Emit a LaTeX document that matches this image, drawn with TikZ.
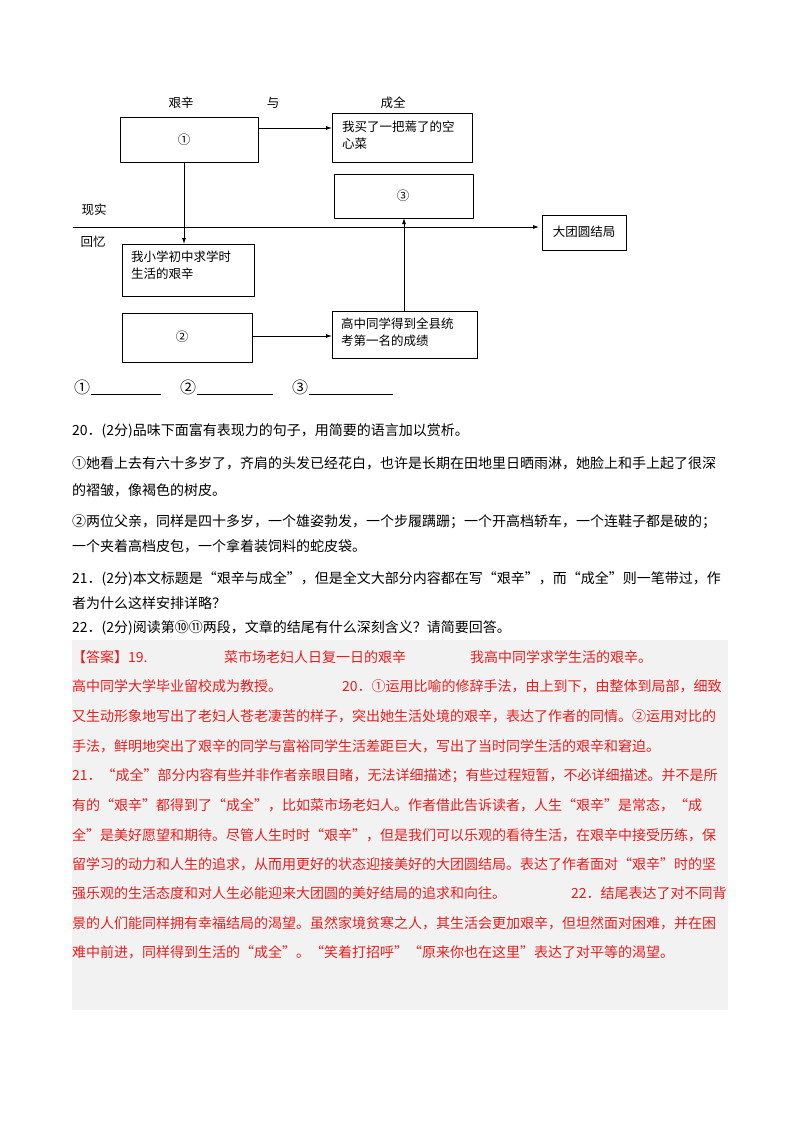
\documentclass[tikz,border=0pt]{standalone}
\usepackage{fontspec}
\setmainfont{Noto Sans CJK SC}
\usetikzlibrary{arrows.meta}
\definecolor{ansred}{RGB}{232,30,30}
\definecolor{ansbg}{RGB}{242,242,242}
\tikzset{
  box/.style={draw, line width=0.8pt, minimum width=0pt},
  lbl/.style={font=\fontsize{12.5}{17}\selectfont, inner sep=0pt},
  txt/.style={anchor=west, inner sep=0pt, font=\fontsize{14}{16}\selectfont},
  ans/.style={txt, text=ansred},
  arr/.style={-{Latex[length=6pt,width=4pt]}, line width=0.8pt}
}
\begin{document}
\begin{tikzpicture}[x=1pt, y=-1pt, line join=round]
\useasboundingbox (0,0) rectangle (800,1132);
\fill[white] (0,0) rectangle (800,1132);
% diagram
\node[lbl] (hard) at (181,103) {艰辛};
\node[lbl] (and) at (273,103) {与};
\node[lbl] (done) at (393,103) {成全};
\draw[box] (120,117) rectangle (258,162);
\node[lbl] (b1) at (184,140) {①};
\draw[box] (332,113) rectangle (472,162);
\node[lbl, align=left, anchor=north west] (cai) at (342,121) {我买了一把蔫了的空\\心菜};
\draw[box] (334,174) rectangle (473,218);
\node[lbl] (b3) at (403,196) {③};
\draw[box] (542,215) rectangle (626,250);
\node[lbl] (end) at (584,232) {大团圆结局};
\node[lbl] (now) at (94,210) {现实};
\node[lbl] (past) at (93,242) {回忆};
\draw[box] (122,244) rectangle (254,296);
\node[lbl, align=left, anchor=north west] (xiao) at (131,251) {我小学初中求学时\\生活的艰辛};
\draw[box] (122,313) rectangle (252,362);
\node[lbl] (b2) at (182,337) {②};
\draw[box] (332,311) rectangle (477,358);
\node[lbl, align=left, anchor=north west] (gao) at (341,318) {高中同学得到全县统\\考第一名的成绩};
\coordinate (lineL) at (73,227);
\coordinate (lineR) at (539,227);
\draw[arr] (lineL) -- (lineR);
\draw[arr] (258,128) -- (332,128);
\draw[arr] (184,162) -- (184,244);
\draw[arr] (252,336) -- (332,336);
\draw[arr] (404,311) -- (404,218);
% blanks
\node[lbl, font=\fontsize{16}{18}\selectfont] (q1) at (82,387) {①};
\draw (91,394) -- (161,394);
\node[lbl, font=\fontsize{16}{18}\selectfont] (q2) at (188,387) {②};
\draw (197,394) -- (273,394);
\node[lbl, font=\fontsize{16}{18}\selectfont] (q3) at (300,387) {③};
\draw (309,394) -- (393,394);
% questions
\node[txt] (l1) at (72,431) {20．(2分)品味下面富有表现力的句子，用简要的语言加以赏析。};
\node[txt] (l2) at (72,463) {①她看上去有六十多岁了，齐肩的头发已经花白，也许是长期在田地里日晒雨淋，她脸上和手上起了很深};
\node[txt] (l3) at (72,490) {的褶皱，像褐色的树皮。};
\node[txt] (l4) at (72,522) {②两位父亲，同样是四十多岁，一个雄姿勃发，一个步履蹒跚；一个开高档轿车，一个连鞋子都是破的；};
\node[txt] (l5) at (72,546) {一个夹着高档皮包，一个拿着装饲料的蛇皮袋。};
\node[txt] (l6) at (72,579) {21．(2分)本文标题是“艰辛与成全”，但是全文大部分内容都在写“艰辛”，而“成全”则一笔带过，作};
\node[txt] (l7) at (72,603) {者为什么这样安排详略？};
\node[txt] (l8) at (72,628) {22．(2分)阅读第⑩⑪两段，文章的结尾有什么深刻含义？请简要回答。};
% answer
\fill[ansbg] (72,640) rectangle (728,1010);
\node[ans] (a1) at (72,657) {【答案】19.};
\node[ans] (a1b) at (224,657) {菜市场老妇人日复一日的艰辛};
\node[ans] (a1c) at (470,657) {我高中同学求学生活的艰辛。};
\node[ans] (a2) at (72,686) {高中同学大学毕业留校成为教授。};
\node[ans] (a2b) at (342,686) {20．①运用比喻的修辞手法，由上到下，由整体到局部，细致};
\node[ans] (a3) at (72,716) {又生动形象地写出了老妇人苍老凄苦的样子，突出她生活处境的艰辛，表达了作者的同情。②运用对比的};
\node[ans] (a4) at (72,746) {手法，鲜明地突出了艰辛的同学与富裕同学生活差距巨大，写出了当时同学生活的艰辛和窘迫。};
\node[ans] (a5) at (72,776) {21．“成全”部分内容有些并非作者亲眼目睹，无法详细描述；有些过程短暂，不必详细描述。并不是所};
\node[ans] (a6) at (72,805) {有的“艰辛”都得到了“成全”，比如菜市场老妇人。作者借此告诉读者，人生“艰辛”是常态，“成};
\node[ans] (a7) at (72,835) {全”是美好愿望和期待。尽管人生时时“艰辛”，但是我们可以乐观的看待生活，在艰辛中接受历练，保};
\node[ans] (a8) at (72,864) {留学习的动力和人生的追求，从而用更好的状态迎接美好的大团圆结局。表达了作者面对“艰辛”时的坚};
\node[ans] (a9) at (72,893) {强乐观的生活态度和对人生必能迎来大团圆的美好结局的追求和向往。};
\node[ans] (a9b) at (571,893) {22．结尾表达了对不同背};
\node[ans] (a10) at (72,923) {景的人们能同样拥有幸福结局的渴望。虽然家境贫寒之人，其生活会更加艰辛，但坦然面对困难，并在困};
\node[ans] (a11) at (72,952) {难中前进，同样得到生活的“成全”。“笑着打招呼”“原来你也在这里”表达了对平等的渴望。};
\end{tikzpicture}
\end{document}
